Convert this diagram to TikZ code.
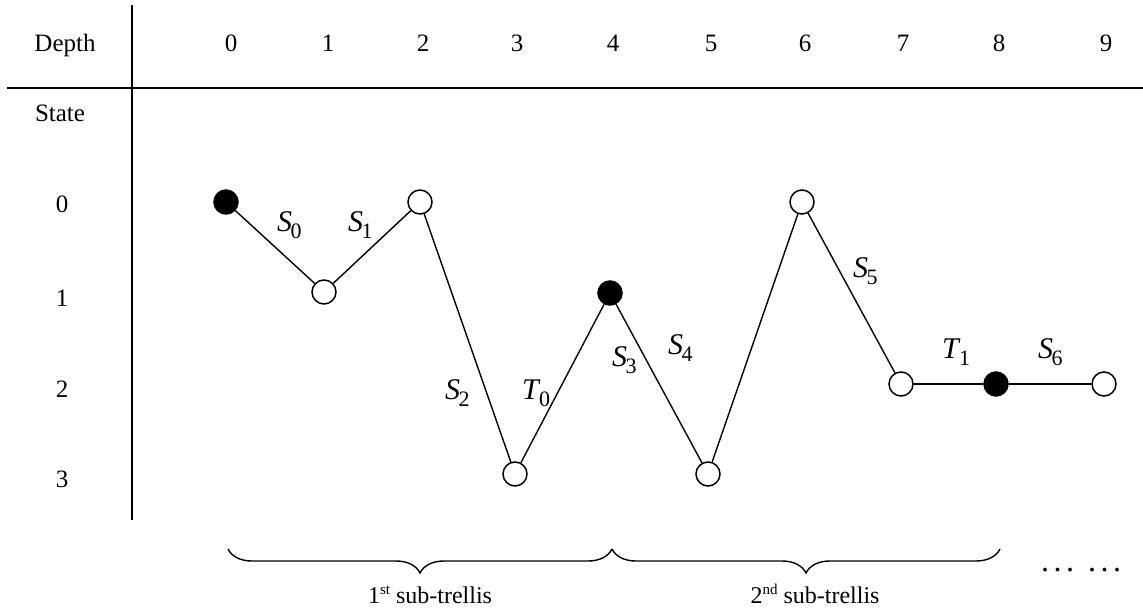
\documentclass[tikz,border=0pt]{standalone}
\usepackage{fontspec}
\setmainfont{Liberation Serif}
\usetikzlibrary{decorations.pathreplacing}
% branch label: italic letter with an upright, lowered index
\newcommand{\brlab}[2]{\textit{#1}\kern-1.5pt\raisebox{-7pt}{\fontsize{22}{22}\selectfont #2}}
% ordinal suffix
\newcommand{\ordsup}[1]{\raisebox{9pt}{\fontsize{15}{15}\selectfont #1}}
\begin{document}
\begin{tikzpicture}[x=1pt,y=-1pt,
  hdr/.style={font=\fontsize{25}{28}\selectfont, inner sep=0pt, anchor=base},
  lbl/.style={font=\fontsize{30}{32}\selectfont, inner sep=0pt, anchor=base west},
  sub/.style={font=\fontsize{24}{26}\selectfont, inner sep=0pt, anchor=base},
  rule/.style={line width=1.5pt},
  edge/.style={line width=1.4pt},
  openst/.style={circle, draw, line width=1.5pt, minimum size=24pt, inner sep=0pt, fill=white},
  closedst/.style={openst, fill=black},
  bracepath/.style={line width=1.4pt, decorate, decoration={brace, mirror, amplitude=24pt}}]
\useasboundingbox (0,0) rectangle (1143,612);

% table frame
\coordinate (hl) at (7,88);
\coordinate (hr) at (1143,88);
\coordinate (vt) at (132,5);
\coordinate (vb) at (132,520);
\draw[rule] (hl) -- (hr);
\draw[rule] (vt) -- (vb);

% headers
\node[hdr] (depth) at (65,52) {Depth};
\node[hdr] (state) at (60,122) {State};
\foreach \d/\x in {0/231,1/328,2/423,3/517,4/613,5/711,6/805,7/903,8/999,9/1106}
  \node[hdr] (d\d) at (\x,52) {\d};
\foreach \s/\y in {0/213,1/306,2/397,3/487}
  \node[hdr] (s\s) at (62,\y) {\s};

% trellis path
\node[closedst] (n0) at (226,202) {};
\node[openst]   (n1) at (324,292) {};
\node[openst]   (n2) at (420,202) {};
\node[openst]   (n3) at (515,474) {};
\node[closedst] (n4) at (610,293) {};
\node[openst]   (n5) at (708,474) {};
\node[openst]   (n6) at (802,202) {};
\node[openst]   (n7) at (901,384) {};
\node[closedst] (n8) at (996,384) {};
\node[openst]   (n9) at (1104,384) {};

\draw[edge] (n0) -- (n1);
\draw[edge] (n1) -- (n2);
\draw[edge] (n2) -- (n3);
\draw[edge] (n3) -- (n4);
\draw[edge] (n4) -- (n5);
\draw[edge] (n5) -- (n6);
\draw[edge] (n6) -- (n7);
\draw[edge] (n7) -- (n8);
\draw[edge] (n8) -- (n9);

% branch labels
\node[lbl] (l0) at (277,232) {\brlab{S}{0}};
\node[lbl] (l1) at (348,232) {\brlab{S}{1}};
\node[lbl] (l2) at (445,399) {\brlab{S}{2}};
\node[lbl] (l3) at (522,399) {\brlab{T}{0}};
\node[lbl] (l4) at (612,366) {\brlab{S}{3}};
\node[lbl] (l5) at (668,354) {\brlab{S}{4}};
\node[lbl] (l6) at (853,278) {\brlab{S}{5}};
\node[lbl] (l7) at (942,358) {\brlab{T}{1}};
\node[lbl] (l8) at (1038,358) {\brlab{S}{6}};

% sub-trellis braces
\coordinate (b0) at (228,549);
\coordinate (b1) at (612,549);
\coordinate (b2) at (1000,549);
\draw[bracepath] (b0) -- (b1);
\draw[bracepath] (b1) -- (b2);
\node[sub] (t1) at (430,603) {1\ordsup{st} sub-trellis};
\node[sub] (t2) at (815,603) {2\ordsup{nd} sub-trellis};
\node[hdr, font=\fontsize{32}{34}\selectfont, anchor=base west] (more) at (1041,571)
  {.\kern4.5pt.\kern4.5pt.\kern14pt.\kern4.5pt.\kern4.5pt.};
\end{tikzpicture}
\end{document}
